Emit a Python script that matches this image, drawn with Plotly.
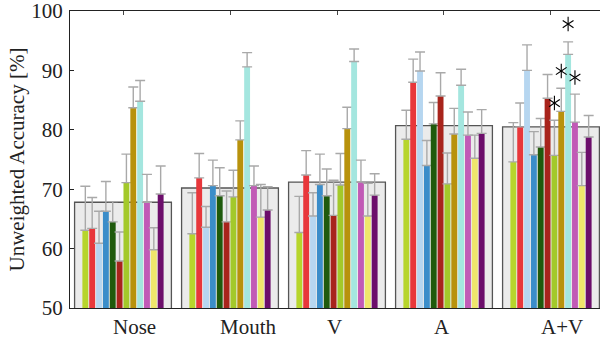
import plotly.graph_objects as go

categories = ["Nose", "Mouth", "V", "A", "A+V"]
group_mean = [67.8, 70.2, 71.2, 80.7, 80.5]
y_ticks = [50, 60, 70, 80, 90, 100]

series_colors = ["#b7d52c", "#e8373b", "#b6d6f0", "#3b8dc9", "#1f5a0c", "#a8241c",
                 "#a3c92a", "#b8920c", "#a4e6df", "#c15ab6", "#efe66b", "#6c0e6b"]

values = [
    [63.1, 62.5, 62.7, 78.4, 74.6],
    [63.4, 71.9, 72.4, 88.0, 80.5],
    [60.9, 63.6, 65.5, 89.9, 90.0],
    [66.3, 70.6, 70.8, 74.0, 75.8],
    [64.5, 68.9, 68.9, 81.0, 77.1],
    [57.9, 64.5, 65.6, 85.7, 85.3],
    [71.1, 68.7, 70.7, 70.9, 75.7],
    [83.7, 78.3, 80.2, 79.3, 83.1],
    [84.8, 90.6, 91.5, 87.5, 92.7],
    [67.8, 70.6, 71.2, 79.1, 81.3],
    [59.8, 65.3, 65.5, 75.2, 70.6],
    [69.2, 66.5, 69.0, 79.4, 78.8],
]
upper_err = [
    [70.5, 69.4, 68.8, 83.3, 81.2],
    [68.6, 76.0, 76.5, 91.9, 84.5],
    [66.3, 67.1, 69.4, 93.1, 94.3],
    [71.3, 74.9, 75.9, 78.2, 79.7],
    [67.9, 73.6, 73.4, 84.6, 81.9],
    [62.8, 69.7, 71.5, 89.6, 89.3],
    [75.9, 73.2, 76.0, 76.1, 81.6],
    [87.2, 81.5, 83.8, 83.6, 87.0],
    [88.3, 93.0, 93.6, 90.2, 94.8],
    [72.5, 73.9, 74.9, 83.0, 86.0],
    [63.5, 70.8, 71.0, 79.1, 76.2],
    [73.9, 70.4, 72.6, 83.4, 82.4],
]
# significance asterisks (group "A+V")
star_group = 4
star_series = [6, 7, 8, 9]
star_values = [84.5, 89.9, 97.8, 88.8]

pos = list(range(len(categories)))
pitch = 0.064
bw = 0.055
FONT = "Liberation Serif"

fig = go.Figure()
fig.add_trace(go.Bar(x=pos, y=group_mean, width=0.905,
                     marker=dict(color="#ebebeb", line=dict(color="#555555", width=1.3)),
                     showlegend=False, hoverinfo="skip"))
n = len(values)
for j in range(n):
    off = (j - (n - 1) / 2) * pitch
    fig.add_trace(go.Bar(
        x=pos, y=values[j], width=bw, offset=off - bw / 2,
        marker=dict(color=series_colors[j], line=dict(width=0)),
        error_y=dict(type="data", symmetric=False,
                     array=[u - v for u, v in zip(upper_err[j], values[j])],
                     arrayminus=[0] * len(pos),
                     color="#a9a9a9", thickness=1.4, width=5),
        showlegend=False))

sx = [pos[star_group] + (j - (n - 1) / 2) * pitch for j in star_series]
for sym in ["y-up-open", "y-down-open"]:
    fig.add_trace(go.Scatter(x=sx, y=star_values, mode="markers",
                             marker=dict(symbol=sym, size=9, color="black",
                                         line=dict(color="black", width=1.1)),
                             showlegend=False, cliponaxis=False))

for i, c in enumerate(categories):
    fig.add_annotation(x=pos[i], y=0, xref="x", yref="paper", text=c, showarrow=False,
                       xanchor="left", yanchor="middle", xshift=-12, yshift=-19,
                       font=dict(family=FONT, size=21, color="#222"))
fig.add_annotation(x=0, y=0.5, xref="paper", yref="paper", text="Unweighted Accuracy [%]",
                   textangle=-90, showarrow=False, xanchor="center", yanchor="middle",
                   xshift=-54, font=dict(family=FONT, size=21, color="#222"))

fig.update_layout(
    width=600, height=340,
    margin=dict(l=70, r=0, t=11, b=32),
    paper_bgcolor="white", plot_bgcolor="white",
    barmode="overlay",
    xaxis=dict(range=[-0.4953, 4.458], showticklabels=False, ticks="", showgrid=False,
               zeroline=False, showline=True, linecolor="#222", linewidth=1.3),
    xaxis2=dict(range=[-0.4953, 4.458], overlaying="x", side="top", tickvals=pos,
                showticklabels=False, ticks="inside", ticklen=4, tickcolor="#444",
                showgrid=False, zeroline=False, showline=True, linecolor="#222", linewidth=1.3),
    yaxis=dict(range=[50, 100], tickmode="array", tickvals=y_ticks,
               ticktext=[str(t) for t in y_ticks], ticklabeloverflow="allow",
               ticks="inside", ticklen=4, tickcolor="#222", ticklabelstandoff=2,
               showgrid=False, zeroline=False, showline=True, linecolor="#222", linewidth=1.3,
               tickfont=dict(family=FONT, size=21, color="#222")),
)
# invisible trace to activate the top axis
fig.add_trace(go.Scatter(x=[pos[0]], y=[50], xaxis="x2", mode="markers",
                         marker=dict(opacity=0), showlegend=False, hoverinfo="skip"))
fig.write_html("out.html", config={"displayModeBar": False},
               post_script="document.body.style.margin='0';document.body.style.overflow='hidden';")
